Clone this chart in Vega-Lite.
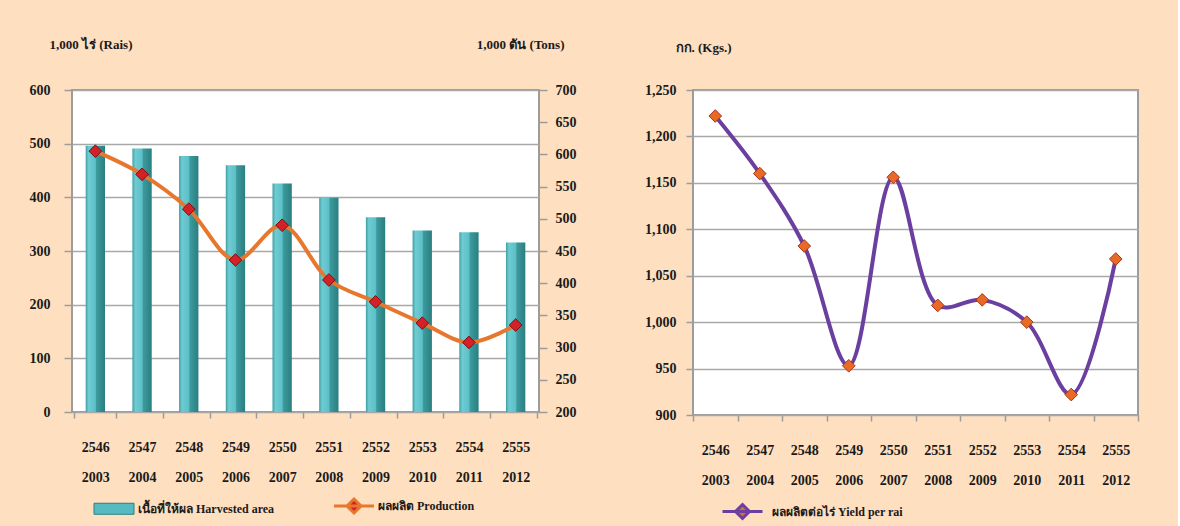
{
  "$schema": "https://vega.github.io/schema/vega-lite/v6.json",
  "background": "#fedfc0",
  "padding": {"left": 28, "top": 37, "right": 38, "bottom": 5},
  "datasets": {
    "d": [
      {"year": "2546|2003", "area": 496, "production": 605, "yield": 1222},
      {"year": "2547|2004", "area": 491, "production": 569, "yield": 1160},
      {"year": "2548|2005", "area": 477, "production": 515, "yield": 1082},
      {"year": "2549|2006", "area": 460, "production": 436, "yield": 953},
      {"year": "2550|2007", "area": 426, "production": 490, "yield": 1156},
      {"year": "2551|2008", "area": 399, "production": 405, "yield": 1018},
      {"year": "2552|2009", "area": 363, "production": 371, "yield": 1024},
      {"year": "2553|2010", "area": 338, "production": 338, "yield": 1000},
      {"year": "2554|2011", "area": 335, "production": 308, "yield": 922},
      {"year": "2555|2012", "area": 316, "production": 335, "yield": 1068}
    ]
  },
  "config": {
    "font": "'Liberation Serif', serif",
    "view": {"stroke": "#9c9c9c", "strokeWidth": 2, "fill": "#ffffff"},
    "axis": {
      "labelFont": "'Liberation Serif', serif", "labelFontWeight": "bold", "labelFontSize": 14, "labelColor": "#1a1a1a",
      "titleFont": "'Liberation Serif', serif", "titleFontWeight": "bold", "titleFontSize": 13, "titleColor": "#1a1a1a",
      "domainColor": "#9c9c9c", "tickColor": "#9c9c9c", "gridColor": "#a8a8a8", "gridWidth": 1.5, "tickWidth": 1.5
    },
    "legend": {"labelFont": "'Liberation Serif', serif", "labelFontWeight": "bold", "labelFontSize": 12, "labelColor": "#1a1a1a"},
    "concat": {"spacing": 66}
  },
  "resolve": {"scale": {"stroke": "independent", "fill": "independent"}, "legend": {"stroke": "independent", "fill": "independent"}},
  "hconcat": [
    {
      "width": 467,
      "height": 322,
      "data": {"name": "d"},
      "encoding": {
        "x": {
          "field": "year", "type": "ordinal", "sort": null,
          "axis": {"title": null, "labelAngle": 0, "labelExpr": "split(datum.label, '|')", "labelLineHeight": 30, "tickBand": "extent", "tickSize": 6, "labelPadding": 22, "domain": false}
        }
      },
      "layer": [
        {
          "mark": {
            "type": "bar", "width": {"band": 0.46},
            "color": {"gradient": "linear", "x1": 0, "y1": 0, "x2": 1, "y2": 0,
              "stops": [{"offset": 0, "color": "#3f9ea3"}, {"offset": 0.15, "color": "#6fcbd2"}, {"offset": 0.5, "color": "#5cc0c8"}, {"offset": 0.56, "color": "#3d9b9d"}, {"offset": 1, "color": "#2a7e80"}]}
          },
          "encoding": {
            "y": {
              "field": "area", "type": "quantitative", "scale": {"domain": [0, 600], "nice": false},
              "axis": {"values": [0, 100, 200, 300, 400, 500, 600], "title": "1,000 ไร่ (Rais)", "titleAngle": 0, "titleAlign": "left", "titleBaseline": "middle", "titleX": -23, "titleY": -46, "tickSize": 8, "labelPadding": 14, "grid": true, "domain": false}
            }
          }
        },
        {
          "encoding": {
            "y": {
              "field": "production", "type": "quantitative", "scale": {"domain": [200, 700], "nice": false},
              "axis": {"orient": "right", "values": [200, 250, 300, 350, 400, 450, 500, 550, 600, 650, 700], "grid": false, "title": "1,000 ตัน (Tons)", "titleAngle": 0, "titleAlign": "right", "titleBaseline": "middle", "titleX": 25, "titleY": -46, "tickSize": 8, "labelPadding": 8, "domain": false}
            }
          },
          "layer": [
            {
              "mark": {"type": "line", "interpolate": "catmull-rom", "strokeWidth": 4},
              "encoding": {
                "stroke": {
                  "datum": "ผลผลิต Production", "type": "nominal",
                  "scale": {"domain": ["เนื้อที่ให้ผล Harvested area", "ผลผลิต Production"], "range": ["#2a7e80", "#e8772e"]},
                  "legend": {
                    "title": null, "orient": "none", "direction": "horizontal", "legendX": 26, "legendY": 410,
                    "columnPadding": 53, "symbolSize": 400, "labelOffset": 28,
                    "encode": {
                      "symbols": {
                        "update": {
                          "shape": {"signal": "datum.value === 'ผลผลิต Production' ? 'M-1,0L3,0 M1,-0.7L1.7,0L1,0.7L0.3,0Z' : 'M-1,-0.55L3,-0.55L3,0.55L-1,0.55Z'"},
                          "strokeWidth": {"signal": "datum.value === 'ผลผลิต Production' ? 3 : 1"},
                          "opacity": {"value": 1}
                        }
                      }
                    }
                  }
                }
              }
            },
            {
              "mark": {"type": "point", "filled": true, "size": 160, "stroke": "#7a1010", "strokeWidth": 1, "opacity": 1},
              "encoding": {
                "shape": {"value": "diamond"},
                "fill": {
                  "datum": "ผลผลิต Production", "type": "nominal",
                  "scale": {"domain": ["เนื้อที่ให้ผล Harvested area", "ผลผลิต Production"], "range": ["#55bac1", "#d42128"]},
                  "legend": null
                }
              }
            }
          ]
        }
      ],
      "resolve": {"scale": {"y": "independent"}}
    },
    {
      "width": 445,
      "height": 325,
      "data": {"name": "d"},
      "encoding": {
        "x": {
          "field": "year", "type": "ordinal", "sort": null,
          "axis": {"title": null, "labelAngle": 0, "labelExpr": "split(datum.label, '|')", "labelLineHeight": 30, "tickBand": "extent", "tickSize": 6, "labelPadding": 22, "domain": false}
        },
        "y": {
          "field": "yield", "type": "quantitative", "scale": {"domain": [900, 1250], "nice": false},
          "axis": {"values": [900, 950, 1000, 1050, 1100, 1150, 1200, 1250], "format": ",d", "title": "กก. (Kgs.)", "titleAngle": 0, "titleAlign": "left", "titleBaseline": "middle", "titleX": -18, "titleY": -43, "tickSize": 7, "labelPadding": 10, "grid": true, "domain": false}
        }
      },
      "layer": [
        {
          "mark": {"type": "line", "interpolate": "catmull-rom", "strokeWidth": 4},
          "encoding": {
            "stroke": {
              "datum": "ผลผลิตต่อไร่ Yield per rai", "type": "nominal",
              "scale": {"domain": ["ผลผลิตต่อไร่ Yield per rai"], "range": ["#6b3fa0"]},
              "legend": {
                "title": null, "orient": "none", "direction": "horizontal", "legendX": 28, "legendY": 410,
                "symbolSize": 400, "labelOffset": 28,
                "encode": {
                  "symbols": {
                    "update": {
                      "shape": {"value": "M-1,0L3,0 M1,-0.7L1.7,0L1,0.7L0.3,0Z"},
                      "strokeWidth": {"value": 3},
                      "opacity": {"value": 1}
                    }
                  }
                }
              }
            }
          }
        },
        {
          "mark": {"type": "point", "filled": true, "size": 160, "stroke": "#a8321a", "strokeWidth": 1, "opacity": 1},
          "encoding": {
            "shape": {"value": "diamond"},
            "fill": {
              "datum": "ผลผลิตต่อไร่ Yield per rai", "type": "nominal",
              "scale": {"domain": ["ผลผลิตต่อไร่ Yield per rai"], "range": ["#e86a25"]},
              "legend": null
            }
          }
        }
      ]
    }
  ]
}
